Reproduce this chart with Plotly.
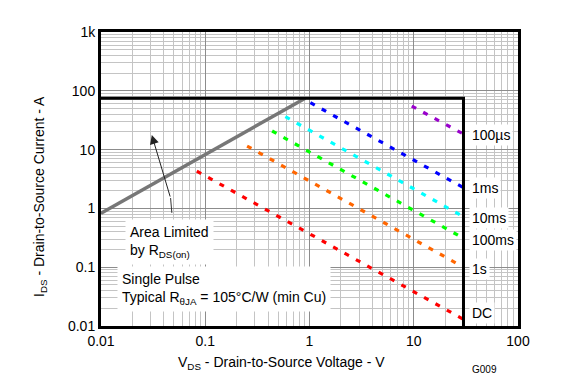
import math
import plotly.graph_objects as go

# ---- data ----
x_ticks = [0.01, 0.1, 1, 10, 100]
x_ticktext = ["0.01", "0.1", "1", "10", "100"]
y_ticks = [0.01, 0.1, 1, 10, 100, 1000]
y_ticktext = ["0.01", "0.1", "1", "10", "100", "1k"]

# Rds(on) limit line
rds_v = [0.01, 0.91]
rds_i = [0.826, 75]

# SOA boundary (Imax, Vmax)
box_v = [0.01, 30, 30]
box_i = [75, 75, 0.01]

# pulse lines: name, color, V, I
pulse_names = ["100µs", "1ms", "10ms", "100ms", "1s", "DC"]
pulse_colors = ["#9900cc", "#0000ff", "#00ffff", "#00ff00", "#ff6600", "#ff0000"]
pulse_v = [[9.57, 30], [1.02, 30], [0.587, 30], [0.438, 30], [0.252, 30], [0.083, 30]]
pulse_i = [[55, 18.4], [62.8, 2.25], [36.3, 0.72], [20.7, 0.31], [11.5, 0.1], [4.3, 0.013]]
label_y_px = [135, 188, 218, 240, 269, 313]

# arrow (tail -> bend -> head)
arrow_v = [0.0478, 0.0465]
arrow_i = [0.84, 1.5]
arrow_head = (0.0307, 17.7)

minor_x = [m * 10 ** e for e in range(-2, 2) for m in range(2, 10)]
minor_y = [m * 10 ** e for e in range(-2, 3) for m in range(2, 10)]

FONT = "Liberation Sans, Arial, sans-serif"
FS = 14
L, R, T, B = 101, 58, 32, 54
W, H = 576, 380
PW, PH = W - L - R, H - T - B

def px(x):
    return (x - L) / PW

def py(y):
    return (H - B - y) / PH

fig = go.Figure()

fig.add_trace(go.Scatter(x=rds_v, y=rds_i, mode="lines",
                         line=dict(color="#777777", width=3.5), showlegend=False))

for name, col, v, i in zip(pulse_names, pulse_colors, pulse_v, pulse_i):
    fig.add_trace(go.Scatter(x=v, y=i, mode="lines", name=name,
                             line=dict(color=col, width=3.2, dash="5px,8px"),
                             showlegend=False))

fig.add_trace(go.Scatter(x=box_v, y=box_i, mode="lines",
                         line=dict(color="black", width=3), showlegend=False))

fig.add_trace(go.Scatter(x=arrow_v, y=arrow_i, mode="lines",
                         line=dict(color="#333333", width=1), showlegend=False))

annotations = []
annotations.append(dict(x=math.log10(arrow_head[0]), y=math.log10(arrow_head[1]),
                        xref="x", yref="y",
                        ax=math.log10(arrow_v[1]), ay=math.log10(arrow_i[1]),
                        axref="x", ayref="y",
                        showarrow=True, arrowhead=2, arrowsize=1.8, arrowwidth=1,
                        arrowcolor="#222222", text=""))

for name, yy in zip(pulse_names, label_y_px):
    annotations.append(dict(x=px(469), y=py(yy), xref="paper", yref="paper",
                            xanchor="left", yanchor="middle", showarrow=False,
                            text=name, bgcolor="white", borderpad=2,
                            font=dict(family=FONT, size=FS, color="black")))

annotations.append(dict(x=px(125), y=py(242), xref="paper", yref="paper",
                        xanchor="left", yanchor="middle", showarrow=False, align="left",
                        text="Area Limited<br>by R<sub>DS(on)</sub>", bgcolor="white",
                        borderpad=4,
                        font=dict(family=FONT, size=FS, color="black")))
annotations.append(dict(x=px(117), y=py(289), xref="paper", yref="paper",
                        xanchor="left", yanchor="middle", showarrow=False, align="left",
                        text="Single Pulse<br>Typical R<sub>θJA</sub> = 105°C/W (min Cu)",
                        bgcolor="white", borderpad=4,
                        font=dict(family=FONT, size=FS, color="black")))
annotations.append(dict(x=px(281), y=py(363), xref="paper", yref="paper",
                        xanchor="center", yanchor="middle", showarrow=False,
                        text="V<sub>DS</sub> - Drain-to-Source Voltage - V",
                        font=dict(family=FONT, size=FS, color="black")))
annotations.append(dict(x=px(40), y=py(197), xref="paper", yref="paper",
                        xanchor="center", yanchor="middle", showarrow=False, textangle=-90,
                        text="I<sub>DS</sub> - Drain-to-Source Current - A",
                        font=dict(family=FONT, size=FS, color="black")))
annotations.append(dict(x=px(484), y=py(369), xref="paper", yref="paper",
                        xanchor="center", yanchor="middle", showarrow=False,
                        text="G009", font=dict(family=FONT, size=10, color="black")))

axis_common = dict(
    type="log", showline=True, linecolor="black", linewidth=3, mirror=True,
    ticks="", showgrid=True, gridcolor="#8c8c8c", gridwidth=1, zeroline=False,
    tickfont=dict(family=FONT, size=FS, color="black"),
)

fig.update_layout(
    width=W, height=H,
    margin=dict(l=L, r=R, t=T, b=B),
    paper_bgcolor="white", plot_bgcolor="white",
    xaxis=dict(range=[-2, 2], tickmode="array", tickvals=x_ticks, ticktext=x_ticktext,
               minor=dict(tickmode="array", tickvals=minor_x, showgrid=True,
                          gridcolor="#c4c4c4", gridwidth=1, ticks=""),
               **axis_common),
    yaxis=dict(range=[-2, 3], tickmode="array", tickvals=y_ticks, ticktext=y_ticktext,
               minor=dict(tickmode="array", tickvals=minor_y, showgrid=True,
                          gridcolor="#c4c4c4", gridwidth=1, ticks=""),
               **axis_common),
    annotations=annotations,
    showlegend=False,
)

fig.write_html("out.html", config={"displayModeBar": False},
               post_script="document.body.style.margin='0';document.body.style.overflow='hidden';")
